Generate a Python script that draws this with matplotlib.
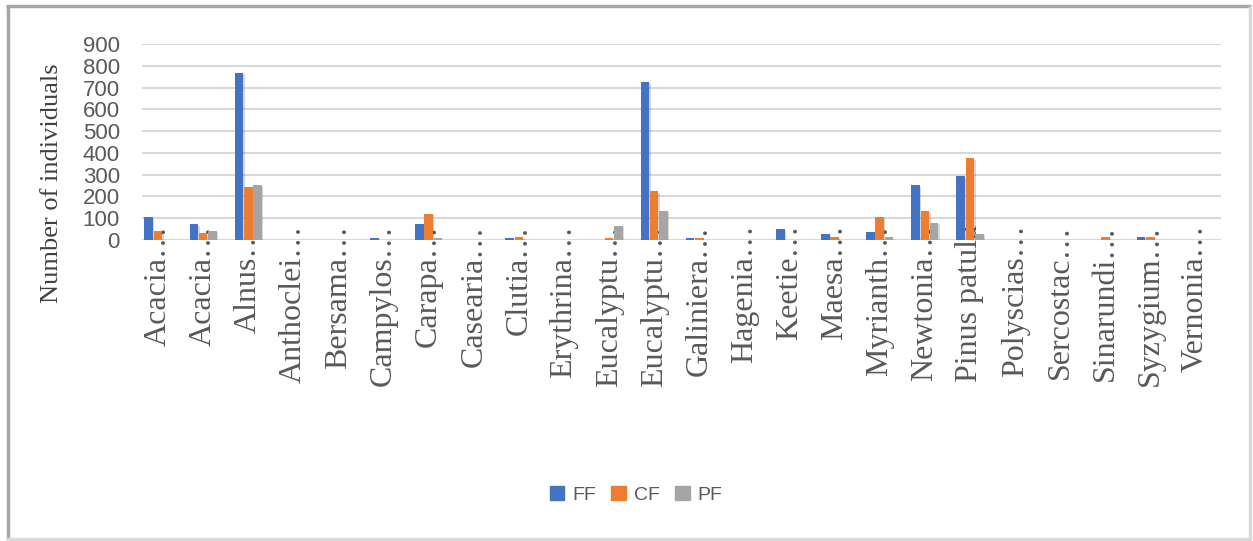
import matplotlib
matplotlib.use("Agg")
import matplotlib.pyplot as plt
import matplotlib.patheffects as pe
from matplotlib.lines import Line2D
import numpy as np

# Species (truncated as on the category axis) and counts per forest type
species = ["Acacia…", "Acacia…", "Alnus…", "Anthoclei…", "Bersama…", "Campylos…",
           "Carapa…", "Casearia…", "Clutia…", "Erythrina…", "Eucalyptu…", "Eucalyptu…",
           "Galiniera…", "Hagenia…", "Keetie…", "Maesa…", "Myrianth…", "Newtonia…",
           "Pinus patula", "Polyscias…", "Sercostac…", "Sinarundi…", "Syzygium…", "Vernonia…"]
ff = [105, 72, 768, 0, 0, 9, 72, 0, 7, 0, 0, 727, 7, 0, 50, 29, 37, 251, 292, 0, 0, 0, 14, 0]
cf = [43, 31, 245, 0, 0, 0, 119, 0, 15, 0, 9, 223, 7, 0, 0, 15, 106, 133, 375, 0, 0, 14, 14, 0]
pf = [0, 43, 251, 0, 0, 0, 8, 0, 0, 0, 64, 133, 0, 0, 0, 0, 13, 78, 29, 0, 0, 0, 0, 0]
series_names = ["FF", "CF", "PF"]
colors = ["#4472C4", "#ED7D31", "#A5A5A5"]
yticks = [0, 100, 200, 300, 400, 500, 600, 700, 800, 900]

W, H = 1253, 541
fig = plt.figure(figsize=(W / 100, H / 100), dpi=100)
fig.patch.set_facecolor("white")

ax = fig.add_axes([142 / W, (H - 240) / H, 1079 / W, 196 / H])
x = np.arange(len(species))
bw = 0.19
shadow = [pe.SimplePatchShadow(offset=(1.0, -1.0), alpha=0.18), pe.Normal()]
for i, (vals, name, c) in enumerate(zip([ff, cf, pf], series_names, colors)):
    bars = ax.bar(x + (i - 1) * 0.205, vals, width=bw, color=c, label=name, zorder=3)
    for b in bars:
        b.set_path_effects(shadow)

ax.set_xlim(-0.355, 23.565)
ax.set_ylim(0, 900)
ax.set_yticks(yticks)
ax.set_yticklabels([str(v) for v in yticks], fontsize=16, color="#595959",
                   family="Liberation Sans")
ax.grid(axis="y", color="#D9D9D9", linewidth=1.5, zorder=0)
ax.set_axisbelow(True)
for s in ax.spines.values():
    s.set_visible(False)
ax.tick_params(axis="y", length=0, pad=16)
ax.tick_params(axis="x", length=0, pad=-11)

ax.set_xticks(x)
ax.set_xticklabels(species, rotation=90, fontsize=23, color="#595959",
                   family="Liberation Serif", va="top", ha="center")

ax.set_ylabel("Number of individuals", fontsize=19, color="#404040",
              family="Liberation Serif")
ax.yaxis.set_label_coords(-0.073, 0.29)

handles = [plt.Rectangle((0, 0), 1, 1, color=c) for c in colors]
fig.legend(handles, series_names, loc="center", bbox_to_anchor=(636 / W, 1 - 495 / H),
           ncol=3, frameon=False, handlelength=0.75, handleheight=0.75,
           handletextpad=0.4, columnspacing=0.8,
           prop={"family": "Liberation Sans", "size": 14}, labelcolor="#595959")

# Chart frame
def px_line(x0, y0, x1, y1, color, lw):
    fig.add_artist(Line2D([x0 / W, x1 / W], [1 - y0 / H, 1 - y1 / H],
                          transform=fig.transFigure, color=color, linewidth=lw,
                          solid_capstyle="butt"))

px_line(6, 6, 1251, 6, "#A6A6A6", 2.5)
px_line(8, 6, 8, 540, "#A6A6A6", 2.5)
px_line(1250, 6, 1250, 540, "#D9D9D9", 2.5)
px_line(6, 539, 1251, 539, "#D9D9D9", 2.5)

fig.savefig("out.png", dpi=100, facecolor="white")
